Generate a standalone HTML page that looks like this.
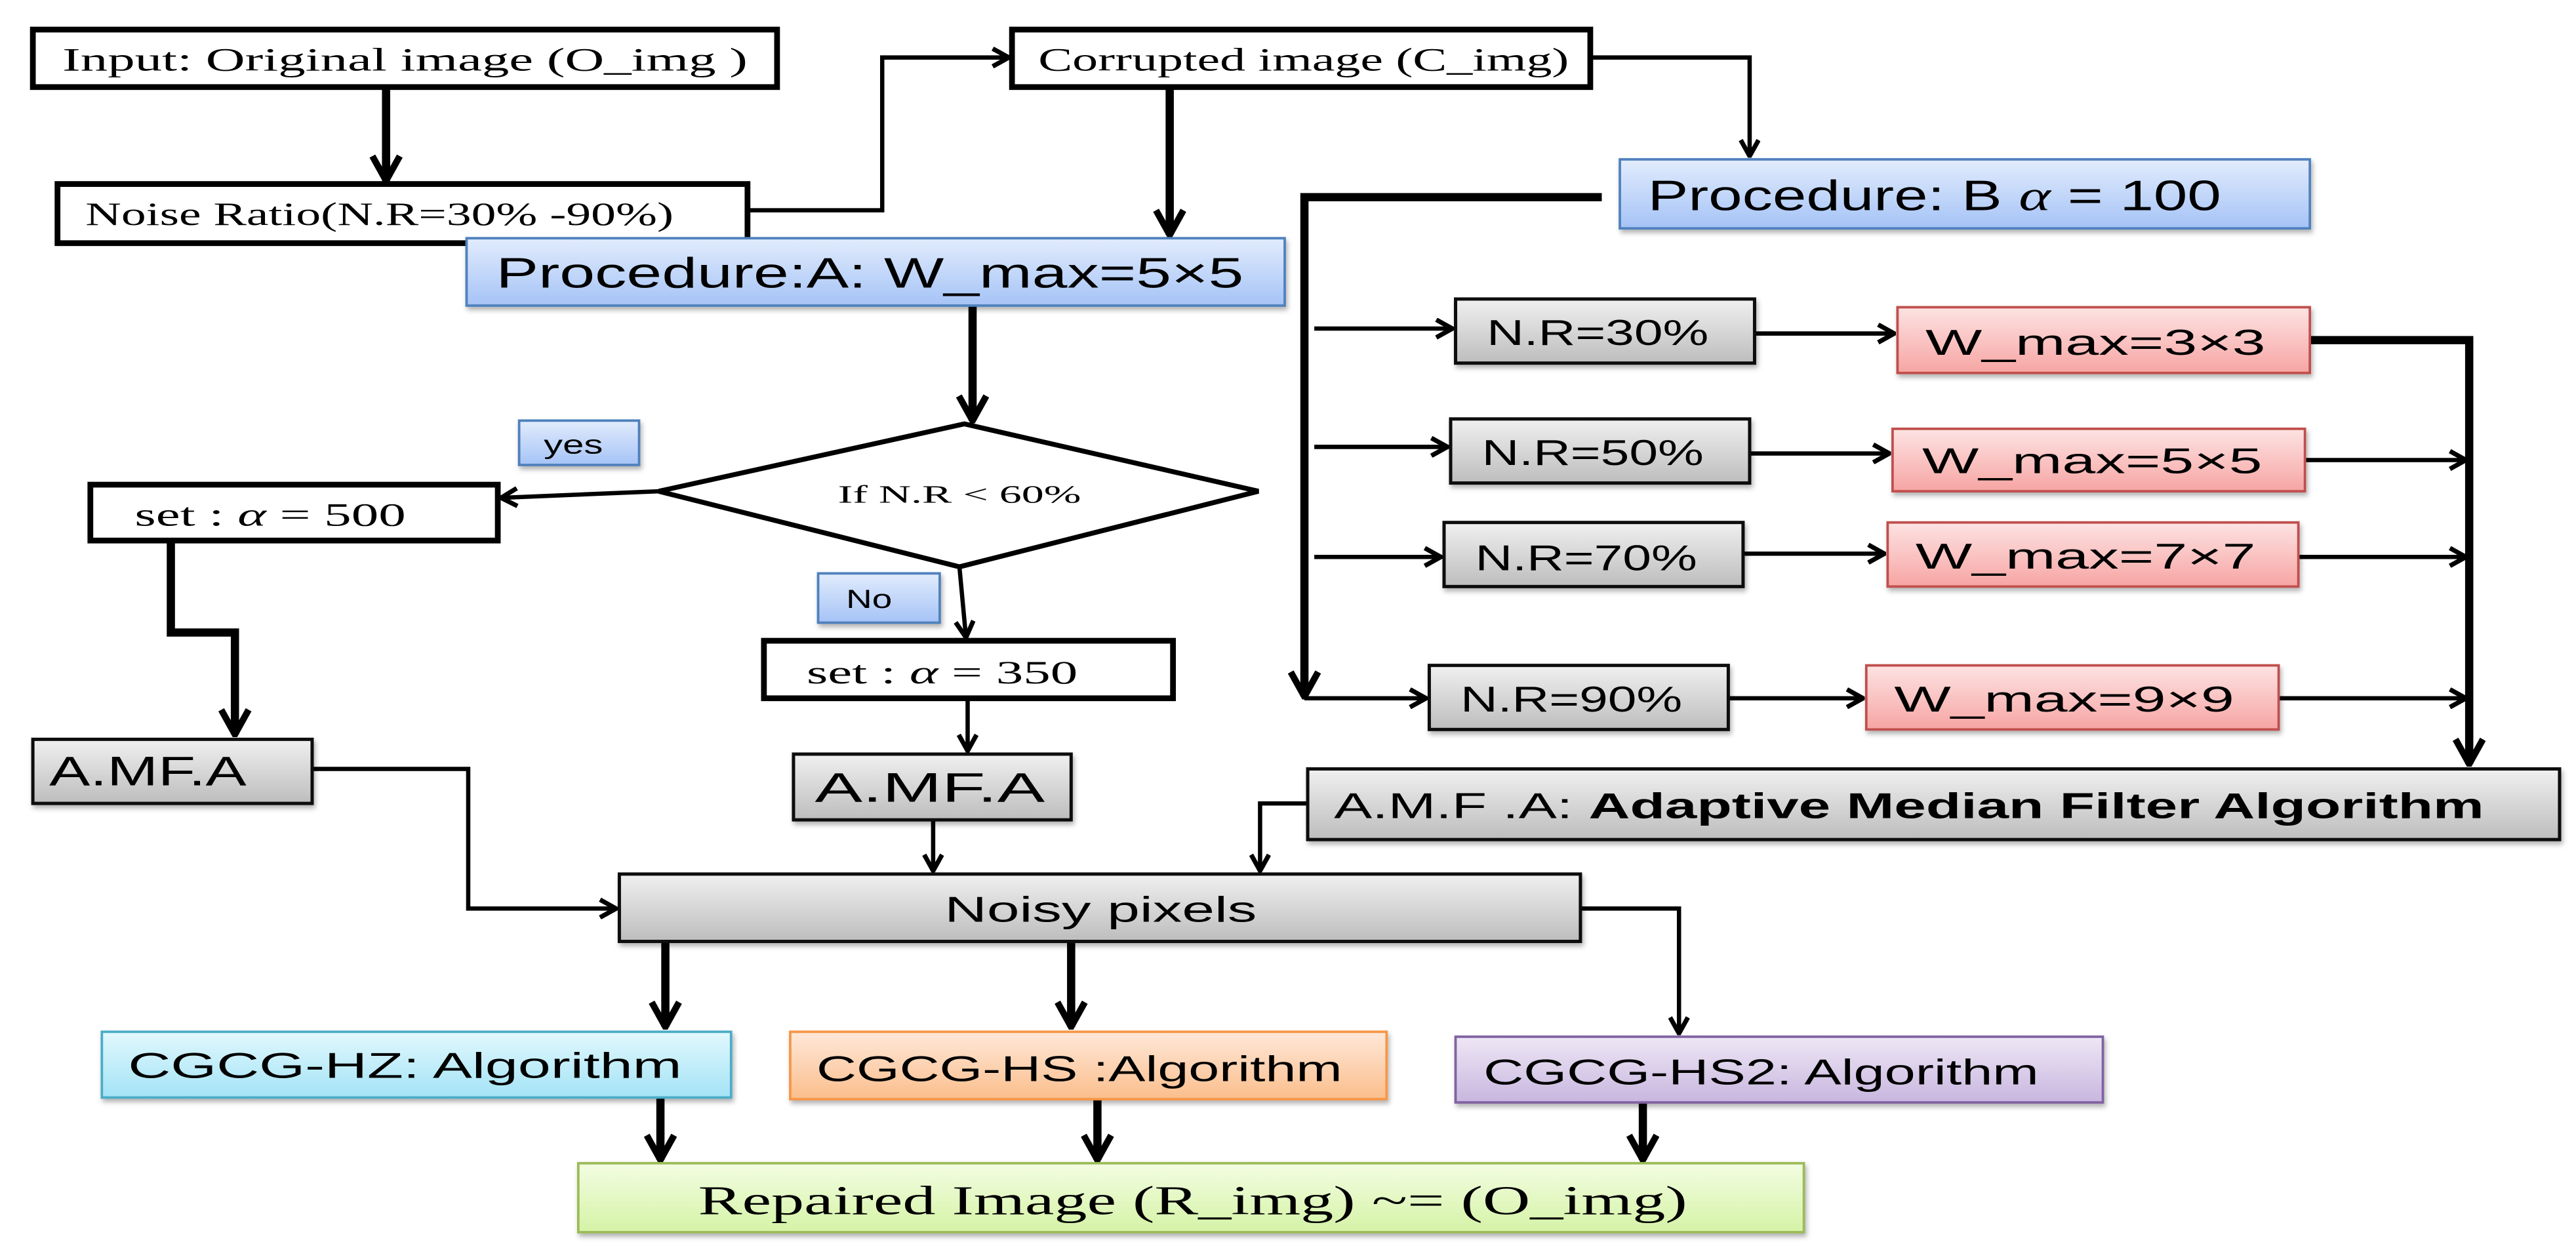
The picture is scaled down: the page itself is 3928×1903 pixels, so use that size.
<!DOCTYPE html>
<html><head><meta charset="utf-8"><style>
html,body{margin:0;padding:0;background:#fff;}
svg{display:block;}
.s{font-family:"Liberation Serif",serif;}
.a{font-family:"Liberation Sans Narrow","Liberation Sans",sans-serif;}
</style></head><body>
<svg width="3928" height="1903" viewBox="0 0 1568 759.6" preserveAspectRatio="none" xmlns="http://www.w3.org/2000/svg">
<defs>
<marker id="m" viewBox="0 0 12 12" refX="11" refY="6" markerWidth="13" markerHeight="13" markerUnits="userSpaceOnUse" orient="auto"><path d="M2,1 L11,6 L2,11" fill="none" stroke="#000" stroke-width="2.6"/></marker>
<marker id="mb" viewBox="0 0 12 12" refX="11" refY="6" markerWidth="20" markerHeight="20" markerUnits="userSpaceOnUse" orient="auto"><path d="M2,1 L11,6 L2,11" fill="none" stroke="#000" stroke-width="2.4"/></marker>
<linearGradient id="gb" x1="0" y1="0" x2="0" y2="1"><stop offset="0" stop-color="#e2ecfd"/><stop offset="1" stop-color="#a5c3f6"/></linearGradient>
<linearGradient id="gg" x1="0" y1="0" x2="0" y2="1"><stop offset="0" stop-color="#f0f0f0"/><stop offset="1" stop-color="#bdbdbd"/></linearGradient>
<linearGradient id="gr" x1="0" y1="0" x2="0" y2="1"><stop offset="0" stop-color="#fde3e3"/><stop offset="1" stop-color="#f6a5a3"/></linearGradient>
<linearGradient id="gc" x1="0" y1="0" x2="0" y2="1"><stop offset="0" stop-color="#e2f8fd"/><stop offset="1" stop-color="#a3e3f6"/></linearGradient>
<linearGradient id="go" x1="0" y1="0" x2="0" y2="1"><stop offset="0" stop-color="#fee8d9"/><stop offset="1" stop-color="#fbbe8c"/></linearGradient>
<linearGradient id="gp" x1="0" y1="0" x2="0" y2="1"><stop offset="0" stop-color="#eee7f5"/><stop offset="1" stop-color="#c8b6df"/></linearGradient>
<linearGradient id="gl" x1="0" y1="0" x2="0" y2="1"><stop offset="0" stop-color="#f3fde2"/><stop offset="1" stop-color="#d5f3a6"/></linearGradient>
<filter id="sh" x="-5%" y="-20%" width="110%" height="150%"><feDropShadow dx="1" dy="2" stdDeviation="1.5" flood-color="#000" flood-opacity="0.3"/></filter>
</defs>

<g fill="none" stroke="#000">
<line x1="235" y1="53" x2="235" y2="110" stroke-width="5" marker-end="url(#mb)"/>
<polyline points="455,128 537,128 537,35 614,35" stroke-width="2.6" marker-end="url(#m)"/>
<line x1="712" y1="53" x2="712" y2="143" stroke-width="5" marker-end="url(#mb)"/>
<polyline points="968,35 1065,35 1065,95" stroke-width="2.6" marker-end="url(#m)"/>
<polyline points="975,120 794,120 794,424" stroke-width="5" marker-end="url(#mb)"/>
<line x1="800" y1="200" x2="884" y2="200" stroke-width="2.6" marker-end="url(#m)"/>
<line x1="800" y1="272" x2="881" y2="272" stroke-width="2.6" marker-end="url(#m)"/>
<line x1="800" y1="339" x2="877" y2="339" stroke-width="2.6" marker-end="url(#m)"/>
<line x1="794" y1="425" x2="868" y2="425" stroke-width="2.6" marker-end="url(#m)"/>
<line x1="1068" y1="203" x2="1153" y2="203" stroke-width="2.6" marker-end="url(#m)"/>
<line x1="1065" y1="276" x2="1150" y2="276" stroke-width="2.6" marker-end="url(#m)"/>
<line x1="1061" y1="337" x2="1147" y2="337" stroke-width="2.6" marker-end="url(#m)"/>
<line x1="1052" y1="425" x2="1134" y2="425" stroke-width="2.6" marker-end="url(#m)"/>
<polyline points="1406,207 1503,207 1503,465" stroke-width="5" marker-end="url(#mb)"/>
<line x1="1403" y1="280" x2="1501" y2="280" stroke-width="2.6" marker-end="url(#m)"/>
<line x1="1399" y1="339" x2="1501" y2="339" stroke-width="2.6" marker-end="url(#m)"/>
<line x1="1387" y1="425" x2="1501" y2="425" stroke-width="2.6" marker-end="url(#m)"/>
<line x1="592" y1="186" x2="592" y2="256" stroke-width="5" marker-end="url(#mb)"/>
<line x1="401" y1="299" x2="305" y2="303" stroke-width="2.6" marker-end="url(#m)"/>
<line x1="584" y1="345" x2="588" y2="388" stroke-width="2.6" marker-end="url(#m)"/>
<polyline points="104,329 104,385 143,385 143,447" stroke-width="5" marker-end="url(#mb)"/>
<line x1="589" y1="425" x2="589" y2="457" stroke-width="2.6" marker-end="url(#m)"/>
<polyline points="190,468 285,468 285,553 375,553" stroke-width="2.6" marker-end="url(#m)"/>
<line x1="568" y1="499" x2="568" y2="530" stroke-width="2.6" marker-end="url(#m)"/>
<polyline points="796,489 767,489 767,530" stroke-width="2.6" marker-end="url(#m)"/>
<line x1="405" y1="573" x2="405" y2="625" stroke-width="5" marker-end="url(#mb)"/>
<line x1="652" y1="573" x2="652" y2="625" stroke-width="5" marker-end="url(#mb)"/>
<polyline points="962,553 1022,553 1022,629" stroke-width="2.6" marker-end="url(#m)"/>
<line x1="402" y1="668" x2="402" y2="706" stroke-width="5" marker-end="url(#mb)"/>
<line x1="668" y1="669" x2="668" y2="706" stroke-width="5" marker-end="url(#mb)"/>
<line x1="1000" y1="671" x2="1000" y2="706" stroke-width="5" marker-end="url(#mb)"/>
</g>

<g fill="#fff" stroke="#000" stroke-width="3.5">
<rect x="20" y="18" width="453" height="35"/>
<rect x="35" y="112" width="420" height="36"/>
<rect x="616" y="18" width="352" height="35"/>
<rect x="55" y="295" width="248" height="34"/>
<rect x="465" y="390" width="249" height="35"/>
<polygon points="401,299 587,258 766,299 584,345" stroke-width="3"/>
</g>

<g filter="url(#sh)">
<rect x="284" y="145" width="498" height="41" fill="url(#gb)" stroke="#4f81bd" stroke-width="1.5"/>
<rect x="986" y="97" width="420" height="42" fill="url(#gb)" stroke="#4f81bd" stroke-width="1.5"/>
<rect x="316" y="256" width="73" height="27" fill="url(#gb)" stroke="#4f81bd" stroke-width="1.5"/>
<rect x="498" y="349" width="74" height="30" fill="url(#gb)" stroke="#4f81bd" stroke-width="1.5"/>
<g fill="url(#gg)" stroke="#111" stroke-width="2">
<rect x="886" y="182" width="182" height="39"/>
<rect x="883" y="255" width="182" height="39"/>
<rect x="879" y="318" width="182" height="39"/>
<rect x="870" y="405" width="182" height="39"/>
<rect x="796" y="468" width="762" height="43"/>
<rect x="20" y="450" width="170" height="39"/>
<rect x="483" y="459" width="169" height="40"/>
<rect x="377" y="532" width="585" height="41"/>
</g>
<g fill="url(#gr)" stroke="#c0504d" stroke-width="1.5">
<rect x="1155" y="187" width="251" height="40"/>
<rect x="1152" y="261" width="251" height="38"/>
<rect x="1149" y="318" width="250" height="39"/>
<rect x="1136" y="405" width="251" height="39"/>
</g>
<rect x="62" y="628" width="383" height="40" fill="url(#gc)" stroke="#4bacc6" stroke-width="1.5"/>
<rect x="481" y="628" width="363" height="41" fill="url(#go)" stroke="#f79646" stroke-width="1.5"/>
<rect x="886" y="631" width="394" height="40" fill="url(#gp)" stroke="#8064a2" stroke-width="1.5"/>
<rect x="352" y="708" width="746" height="42" fill="url(#gl)" stroke="#9bbb59" stroke-width="1.5"/>
</g>

<g class="s" font-size="20" fill="#000">
<text x="38" y="43" textLength="417" lengthAdjust="spacingAndGlyphs">Input: Original  image (O_img )</text>
<text x="52" y="137" textLength="358" lengthAdjust="spacingAndGlyphs">Noise Ratio(N.R=30% -90%)</text>
<text x="632" y="43" textLength="323" lengthAdjust="spacingAndGlyphs">Corrupted image  (C_img)</text>
<text x="82" y="320" textLength="165" lengthAdjust="spacingAndGlyphs">set : <tspan font-style="italic">α</tspan> = 500</text>
<text x="491" y="416" textLength="165" lengthAdjust="spacingAndGlyphs">set : <tspan font-style="italic">α</tspan> = 350</text>
<text x="510" y="306" font-size="15" textLength="148" lengthAdjust="spacingAndGlyphs">If  N.R &lt; 60%</text>
<text x="425" y="739" font-size="25" textLength="602" lengthAdjust="spacingAndGlyphs">Repaired Image  (R_img) ~=  (O_img)</text>
</g>
<g class="a" fill="#000">
<text x="302" y="175" font-size="26" textLength="455" lengthAdjust="spacingAndGlyphs">Procedure:A:  W_max=5×5</text>
<text x="1003" y="128" font-size="26" textLength="349" lengthAdjust="spacingAndGlyphs">Procedure: B <tspan class="s" font-style="italic">α</tspan> = 100</text>
<text x="331" y="276" font-size="16" textLength="36" lengthAdjust="spacingAndGlyphs">yes</text>
<text x="515" y="370" font-size="16" textLength="28" lengthAdjust="spacingAndGlyphs">No</text>
<g font-size="22">
<text x="905" y="210" textLength="135" lengthAdjust="spacingAndGlyphs">N.R=30%</text>
<text x="902" y="283" textLength="135" lengthAdjust="spacingAndGlyphs">N.R=50%</text>
<text x="898" y="347" textLength="135" lengthAdjust="spacingAndGlyphs">N.R=70%</text>
<text x="889" y="433" textLength="135" lengthAdjust="spacingAndGlyphs">N.R=90%</text>
<text x="1172" y="216" textLength="207" lengthAdjust="spacingAndGlyphs">W_max=3×3</text>
<text x="1170" y="288" textLength="207" lengthAdjust="spacingAndGlyphs">W_max=5×5</text>
<text x="1166" y="346" textLength="207" lengthAdjust="spacingAndGlyphs">W_max=7×7</text>
<text x="1153" y="433" textLength="207" lengthAdjust="spacingAndGlyphs">W_max=9×9</text>
<text x="812" y="498" textLength="700" lengthAdjust="spacingAndGlyphs">A.M.F .A: <tspan font-weight="bold">Adaptive Median Filter  Algorithm</tspan></text>
<text x="30" y="478" font-size="25" textLength="120" lengthAdjust="spacingAndGlyphs">A.MF.A</text>
<text x="496" y="488" font-size="25" textLength="140" lengthAdjust="spacingAndGlyphs">A.MF.A</text>
<text x="575" y="561" textLength="190" lengthAdjust="spacingAndGlyphs">Noisy  pixels</text>
<text x="78" y="656" textLength="337" lengthAdjust="spacingAndGlyphs">CGCG-HZ:   Algorithm</text>
<text x="497" y="658" textLength="320" lengthAdjust="spacingAndGlyphs">CGCG-HS :Algorithm</text>
<text x="903" y="660" textLength="338" lengthAdjust="spacingAndGlyphs">CGCG-HS2: Algorithm</text>
</g>
</g>
</svg>
</body></html>
